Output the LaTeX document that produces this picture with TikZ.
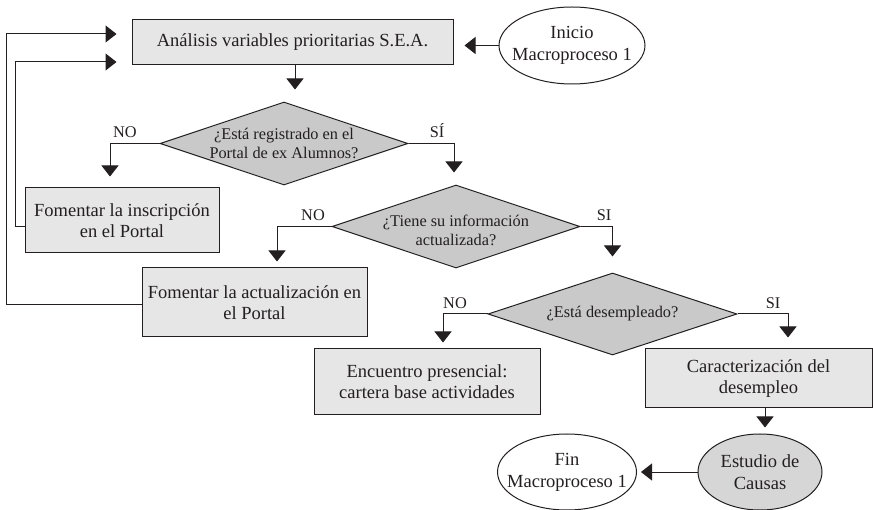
\documentclass[tikz,border=0pt]{standalone}
\usepackage{fontspec}
\setmainfont{Liberation Serif}
\usetikzlibrary{shapes.geometric,arrows.meta}
\definecolor{ink}{HTML}{231F20}
\definecolor{boxgray}{HTML}{E6E6E6}
\definecolor{diagray}{HTML}{C9C9C9}
\definecolor{ovalgray}{HTML}{D6D6D6}
\tikzset{
  proc/.style={rectangle, draw=ink, line width=1pt, fill=boxgray, inner sep=0pt,
    align=center, text=ink, font=\fontsize{18.5}{21}\selectfont},
  decision/.style={diamond, draw=ink, line width=1pt, fill=diagray, inner sep=0pt,
    minimum width=248pt, minimum height=83pt},
  dtext/.style={align=center, text=ink, font=\fontsize{16.3}{19.5}\selectfont, inner sep=0pt},
  term/.style={ellipse, draw=ink, line width=1pt, inner sep=0pt},
  ttext/.style={align=center, text=ink, font=\fontsize{18.5}{22}\selectfont, inner sep=0pt},
  lbl/.style={text=ink, font=\fontsize{16.3}{19}\selectfont, inner sep=0pt, anchor=base},
  arr/.style={draw=ink, line width=1pt, -{Triangle[length=11pt,width=17pt]}}
}
\begin{document}
\begin{tikzpicture}[x=1pt, y=-1pt]
\useasboundingbox (0,0) rectangle (873,510);

% process boxes
\node[proc, minimum width=321pt, minimum height=45pt] (analisis) at (292.5,42.5)
  {Análisis variables prioritarias S.E.A.};
\node[proc, minimum width=194pt, minimum height=65pt] (inscr) at (122,220.5)
  {Fomentar la inscripción\\en el Portal};
\node[proc, minimum width=225pt, minimum height=69pt] (actual) at (254.5,302.5)
  {Fomentar la actualización en\\el Portal};
\node[proc, minimum width=226pt, minimum height=66pt] (encuentro) at (427,382)
  {Encuentro presencial:\\cartera base actividades};
\node[proc, minimum width=227pt, minimum height=59pt] (caract) at (758.5,378.5)
  {Caracterización del\\desempleo};

% decisions
\node[decision, label={[dtext]center:{¿Está registrado en el\\Portal de ex Alumnos?}}] (d1) at (284,143.5) {};
\node[decision, label={[dtext, yshift=-4pt]center:{¿Tiene su información\\actualizada?}}] (d2) at (456,226.5) {};
\node[decision, minimum width=249pt, minimum height=82pt,
  label={[dtext]center:{¿Está desempleado?}}] (d3) at (612.5,314) {};

% terminals
\node[term, minimum width=146pt, minimum height=77pt,
  label={[ttext]center:{Inicio\\Macroproceso 1}}] (inicio) at (572,45.5) {};
\node[term, fill=ovalgray, minimum width=124pt, minimum height=76pt,
  label={[ttext]center:{Estudio de\\Causas}}] (estudio) at (760,472) {};
\node[term, minimum width=139pt, minimum height=76pt,
  label={[ttext]center:{Fin\\Macroproceso 1}}] (fin) at (567,472) {};

% branch labels
\node[lbl] (no1) at (125,138) {NO};
\node[lbl] (si1) at (437,138) {SÍ};
\node[lbl] (no2) at (313,221) {NO};
\node[lbl] (si2) at (604,221) {SI};
\node[lbl] (no3) at (455,309) {NO};
\node[lbl] (si3) at (773,309) {SI};

% connectors
\draw[arr, shorten >=11pt] (inicio.west) -- (analisis.east |- inicio.west);
\draw[arr, shorten >=12pt] ([xshift=2.5pt]analisis.south) -- ([xshift=2.5pt]analisis.south |- d1.north);
\draw[arr, shorten >=11pt] (d1.west) -| ([xshift=-12pt]inscr.north);
\draw[arr, shorten >=12pt] (d1.east) -| ([xshift=-2pt]d2.north);
\draw[arr, shorten >=6pt] (d2.west) -| ([xshift=22.5pt]actual.north);
\draw[arr, shorten >=16pt] (d2.east) -| (d3.north);
\draw[arr, shorten >=6pt] (d3.west) -| ([xshift=16pt]encuentro.north);
\draw[arr, shorten >=11pt] (d3.east) -| ([xshift=29.5pt]caract.north);
\draw[arr, shorten >=6pt] ([xshift=6.5pt]caract.south) -- ([xshift=6.5pt]caract.south |- estudio.north);
\draw[arr, shorten >=4pt] (estudio.west) -- (fin.east);

% feedback loops back to the analysis box
\draw[arr, shorten >=15pt] ([yshift=-2.5pt]actual.west) -- ++(-135,0) |- ([yshift=8.5pt]analisis.west);
\draw[arr, shorten >=15pt] ([yshift=-6.5pt]inscr.west) -- ++(-9,0) |- ([yshift=-19.5pt]analisis.west);
\end{tikzpicture}
\end{document}
